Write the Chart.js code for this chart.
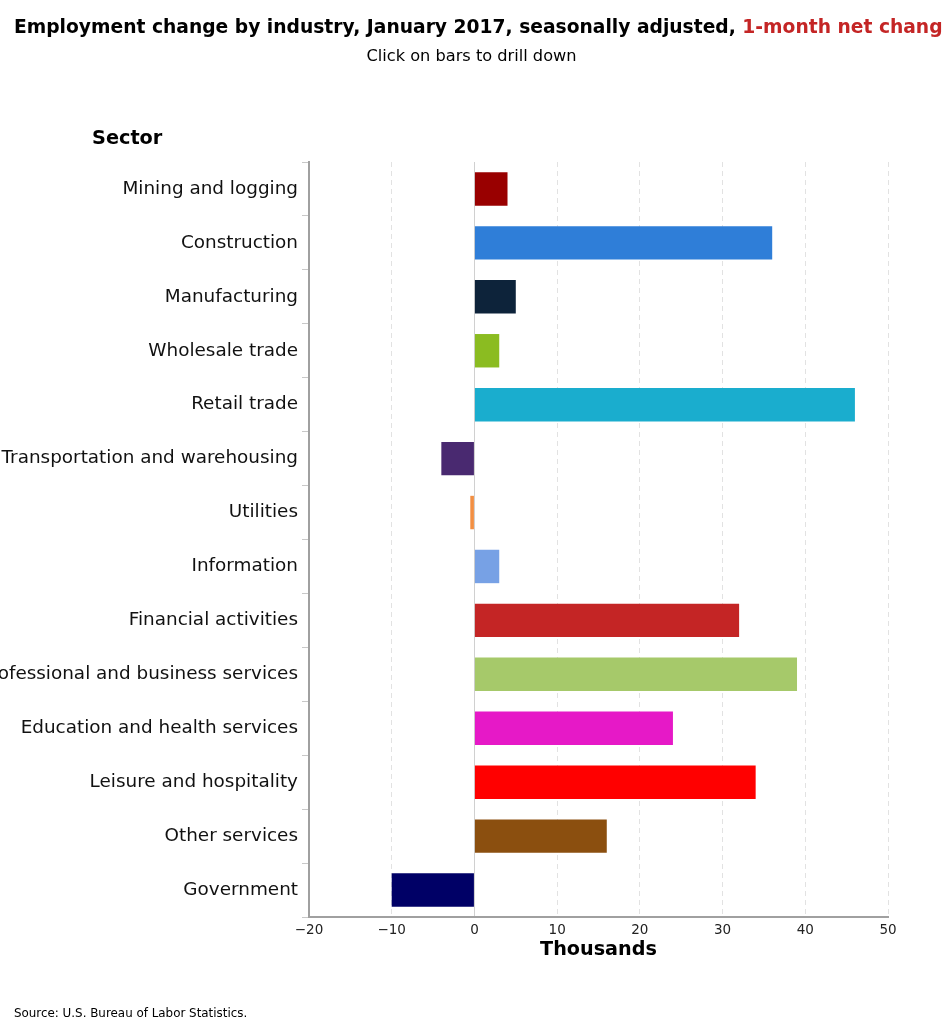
<!DOCTYPE html>
<html>
<head>
<meta charset="utf-8">
<script src="https://cdn.jsdelivr.net/npm/chart.js@4"></script>
<style>
  html, body { margin: 0; padding: 0; background: #fff; }
  body { width: 943px; height: 1024px; position: relative; overflow: hidden; font-family: "DejaVu Sans", sans-serif; }
  #wrap { position: absolute; left: 0; top: 0; width: 943px; height: 1024px; }
  .txt { position: absolute; white-space: nowrap; }
  #title { left: 14px; top: 16px; font-size: 18.7px; font-weight: bold; color: #000; }
  #title span { color: #c42525; }
  #subtitle { left: 0; width: 943px; text-align: center; top: 46px; font-size: 16.2px; color: #000; }
  #sector { left: 92px; top: 126px; font-size: 19.3px; font-weight: bold; color: #000; }
  #source { left: 14px; top: 1006px; font-size: 11.9px; color: #000; }
</style>
</head>
<body>
<div id="wrap"><canvas id="c" width="943" height="1024"></canvas></div>
<div class="txt" id="title">Employment change by industry, January 2017, seasonally adjusted, <span>1-month net change</span></div>
<div class="txt" id="subtitle">Click on bars to drill down</div>
<div class="txt" id="sector">Sector</div>
<div class="txt" id="source">Source: U.S. Bureau of Labor Statistics.</div>
<script>
const categories = [
  "Mining and logging",
  "Construction",
  "Manufacturing",
  "Wholesale trade",
  "Retail trade",
  "Transportation and warehousing",
  "Utilities",
  "Information",
  "Financial activities",
  "Professional and business services",
  "Education and health services",
  "Leisure and hospitality",
  "Other services",
  "Government"
];
const values = [4, 36, 5, 3, 46, -4, -0.5, 3, 32, 39, 24, 34, 16, -10];
const barColors = [
  "#990000", "#2f7ed8", "#0d233a", "#8bbc21", "#1aadce", "#492970", "#f28f43",
  "#77a1e5", "#c42525", "#a6c96a", "#e619c7", "#ff0000", "#8b4f0f", "#000066"
];
const xTicks = [-20, -10, 0, 10, 20, 30, 40, 50];

Chart.defaults.font.family = "'DejaVu Sans', sans-serif";
Chart.defaults.color = "#222";

new Chart(document.getElementById("c"), {
  type: "bar",
  data: {
    labels: categories,
    datasets: [{
      data: values,
      backgroundColor: barColors,
      borderWidth: 0,
      barPercentage: 0.62,
      categoryPercentage: 1.0
    }]
  },
  options: {
    indexAxis: "y",
    responsive: false,
    animation: false,
    devicePixelRatio: 1,
    layout: { padding: { top: 162, right: 55, left: 0, bottom: 62 } },
    plugins: { legend: { display: false }, tooltip: { enabled: false } },
    scales: {
      x: {
        type: "linear",
        min: xTicks[0],
        max: xTicks[xTicks.length - 1],
        afterBuildTicks: (s) => { s.ticks = xTicks.map(v => ({ value: v })); },
        ticks: {
          font: { size: 13.5 },
          color: "#222",
          padding: 5,
          maxRotation: 0,
          callback: (v) => (v < 0 ? "\u2212" + Math.abs(v) : String(v))
        },
        grid: {
          drawTicks: false,
          color: (ctx) => (ctx.tick && ctx.tick.value === 0 ? "#d0d0d0" : "#e2e2e2"),
          lineWidth: 1
        },
        border: {
          display: true,
          color: "#a0a0a0",
          width: 2,
          dash: (ctx) => (ctx.tick && ctx.tick.value === 0 ? [] : [5, 4])
        },
        title: {
          display: true,
          text: "Thousands",
          font: { size: 19.2, weight: "bold" },
          color: "#000",
          padding: { top: 0, bottom: 0 }
        },
        afterFit: (s) => { s.height = 45; }
      },
      y: {
        ticks: {
          font: { size: 18.4 },
          color: "#111",
          padding: 4
        },
        grid: {
          offset: true,
          drawOnChartArea: false,
          drawTicks: true,
          tickLength: 7,
          tickColor: "#c8c8c8",
          color: "#c8c8c8"
        },
        border: { display: true, color: "#a0a0a0", width: 2 },
        afterFit: (s) => { s.width = 309; }
      }
    }
  }
});
</script>
</body>
</html>
